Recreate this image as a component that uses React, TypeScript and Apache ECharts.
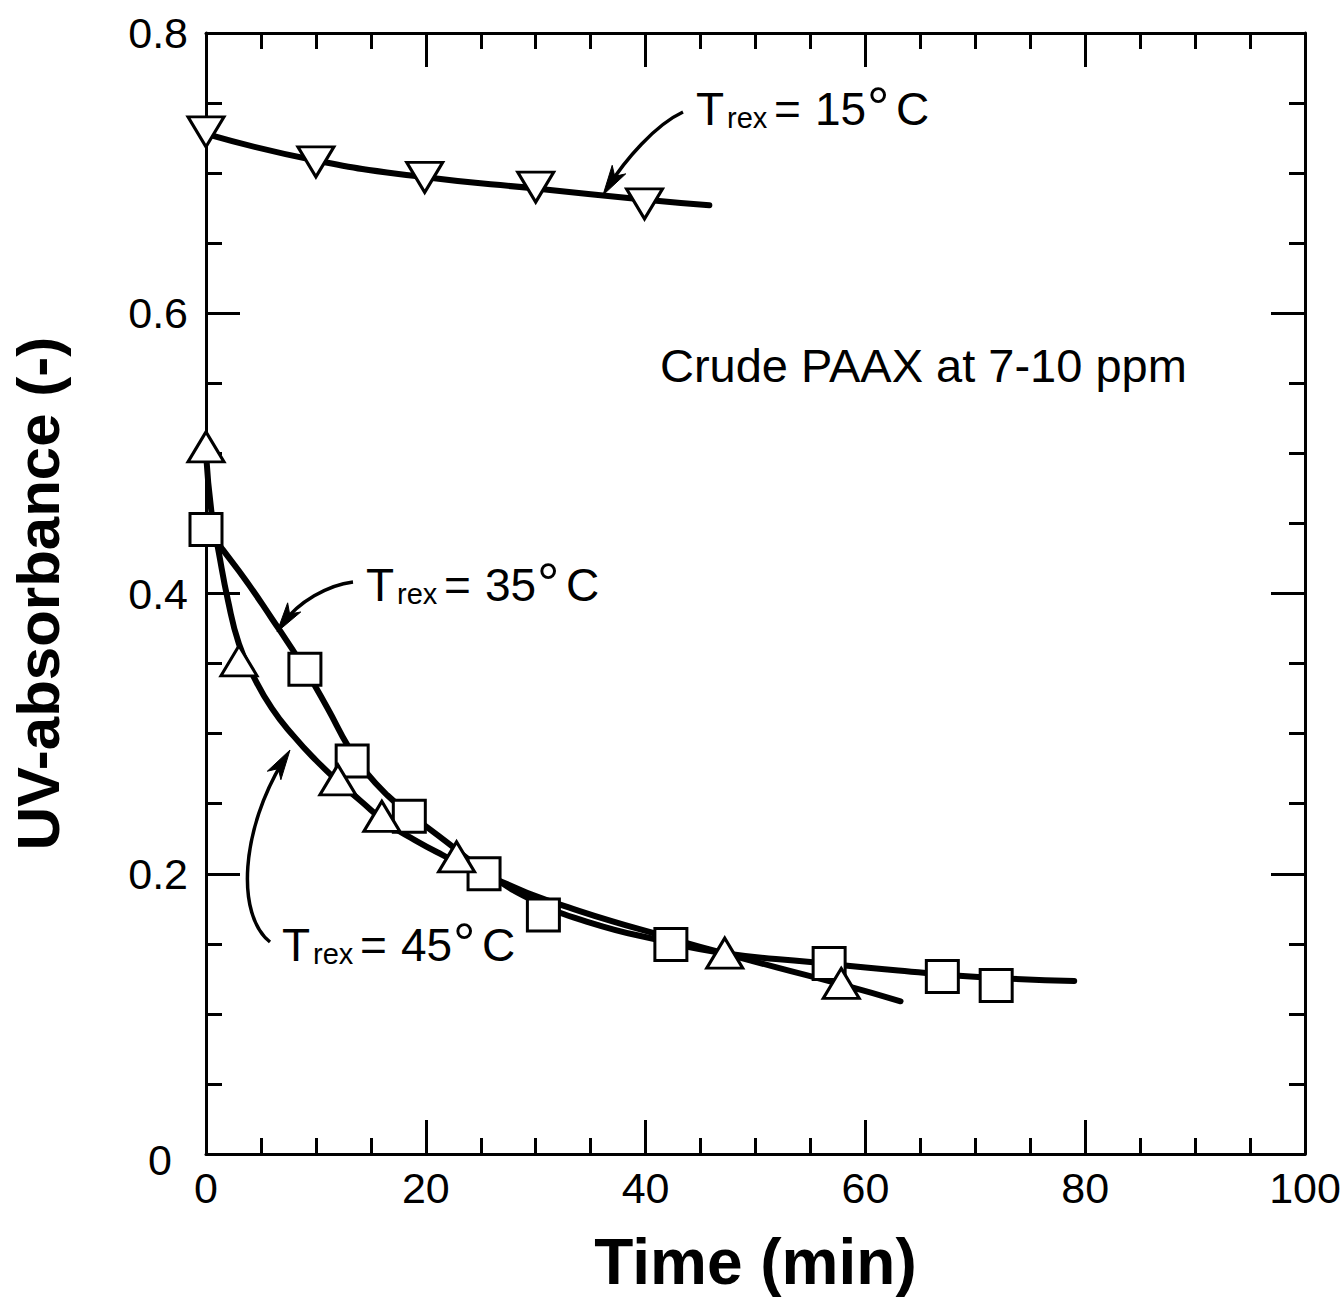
import React, { useEffect, useRef } from 'react';
import * as echarts from 'echarts';

// ---- Data ----
const xTicks = [0, 20, 40, 60, 80, 100];
const yTicks = [0, 0.2, 0.4, 0.6, 0.8];

// Measured points (markers)
const obs15: number[][] = [[0, 0.7295], [10, 0.708], [19.9, 0.697], [30, 0.69], [39.9, 0.678]];
const obs35: number[][] = [[0, 0.4456], [9, 0.346], [13.3, 0.2804], [18.5, 0.241], [25.3, 0.2], [30.7, 0.1705], [42.3, 0.1495], [56.7, 0.136], [67, 0.1267], [71.9, 0.1203]];
const obs45: number[][] = [[0, 0.5046], [3, 0.352], [12, 0.267], [16, 0.241], [22.8, 0.212], [47.2, 0.1434], [57.8, 0.1217]];

// Fitted curves
const fit15: number[][] = [[0, 0.728], [10, 0.709], [20, 0.697], [30, 0.689], [40, 0.681], [45.8, 0.677]];
const fit35: number[][] = [[0, 0.446], [3, 0.416], [6, 0.382], [9, 0.346], [11, 0.319], [13, 0.29], [14.5, 0.273], [16.5, 0.256], [18.5, 0.243], [22, 0.222], [25.5, 0.201], [30, 0.18], [35, 0.165], [41, 0.153], [47, 0.1435], [55, 0.137], [63, 0.131], [71, 0.126], [79, 0.1235]];
const fit45: number[][] = [[0, 0.5], [0.5, 0.458], [1.1, 0.432], [2, 0.395], [3, 0.364], [4.25, 0.342], [6, 0.318], [8, 0.298], [10, 0.281], [12, 0.266], [14, 0.2525], [16.5, 0.236], [19, 0.224], [21.5, 0.2135], [24.5, 0.202], [27, 0.194], [30, 0.184], [33, 0.176], [37, 0.166], [41, 0.157], [44, 0.15], [47, 0.1435], [52, 0.133], [57.8, 0.121], [63.2, 0.109]];

const FONT = '"Liberation Sans", Arial, Helvetica, sans-serif';

function trexLabel(x0: number, yc: number, num: string) {
  const base = { fill: '#000', fontFamily: FONT, verticalAlign: 'middle', align: 'left' };
  return {
    type: 'group',
    children: [
      { type: 'text', x: x0, y: yc, style: { ...base, text: 'T', fontSize: 46 } },
      { type: 'text', x: x0 + 31, y: yc + 9, style: { ...base, text: 'rex', fontSize: 29 } },
      { type: 'text', x: x0 + 78, y: yc, style: { ...base, text: '=', fontSize: 46 } },
      { type: 'text', x: x0 + 119, y: yc, style: { ...base, text: num, fontSize: 46 } },
      { type: 'text', x: x0 + 171, y: yc - 2, style: { ...base, text: '°', fontSize: 56 } },
      { type: 'text', x: x0 + 200, y: yc, style: { ...base, text: 'C', fontSize: 46 } },
    ],
  };
}

function arrow(p0: number[], c1: number[], c2: number[], tip: number[]) {
  const dx = tip[0] - c2[0];
  const dy = tip[1] - c2[1];
  const len = Math.sqrt(dx * dx + dy * dy) || 1;
  const ux = dx / len, uy = dy / len;
  const px = -uy, py = ux;
  const L = 30, W = 8, N = 22;
  const pts = [
    tip,
    [tip[0] - ux * L + px * W, tip[1] - uy * L + py * W],
    [tip[0] - ux * N, tip[1] - uy * N],
    [tip[0] - ux * L - px * W, tip[1] - uy * L - py * W],
  ];
  return [
    {
      type: 'bezierCurve',
      shape: { x1: p0[0], y1: p0[1], cpx1: c1[0], cpy1: c1[1], cpx2: c2[0], cpy2: c2[1], x2: tip[0] - ux * 10, y2: tip[1] - uy * 10 },
      style: { stroke: '#000', lineWidth: 3.5, fill: null },
    },
    { type: 'polygon', shape: { points: pts }, style: { fill: '#000', stroke: '#000', lineWidth: 1 } },
  ];
}

export default function App() {
  const ref = useRef<HTMLDivElement>(null);

  useEffect(() => {
    if (!ref.current) return;
    const chart = echarts.init(ref.current, undefined, { renderer: 'svg' });

    const axisLine = { show: true, onZero: false, lineStyle: { color: '#000', width: 3 } };
    const axisTick = { show: true, inside: true, length: 34, lineStyle: { color: '#000', width: 3 } };
    const minorTick = { show: true, splitNumber: 4, length: 16, lineStyle: { color: '#000', width: 3 } };

    const xBase = {
      type: 'value',
      min: xTicks[0],
      max: xTicks[xTicks.length - 1],
      interval: xTicks[1] - xTicks[0],
      axisLine, axisTick, minorTick,
      splitLine: { show: false },
    };
    const yBase = {
      type: 'value',
      min: yTicks[0],
      max: yTicks[yTicks.length - 1],
      interval: yTicks[1] - yTicks[0],
      axisLine, axisTick, minorTick,
      splitLine: { show: false },
    };

    const lineSeries = (data: number[][]) => ({
      type: 'line',
      data,
      xAxisIndex: 0,
      yAxisIndex: 0,
      showSymbol: false,
      symbol: 'none',
      smooth: 0.5,
      clip: false,
      lineStyle: { color: '#000', width: 6, cap: 'round', join: 'round' },
      z: 2,
    });
    const markerStyle = { color: '#fff', borderColor: '#000', borderWidth: 3, opacity: 1 };

    chart.setOption({
      animation: false,
      backgroundColor: '#fff',
      grid: { left: 200, right: 39, top: 33, bottom: 142, containLabel: false },
      xAxis: [
        {
          ...xBase,
          position: 'bottom',
          axisLabel: { color: '#000', fontSize: 43, fontFamily: FONT, margin: 12 },
          name: 'Time (min)',
          nameLocation: 'middle',
          nameGap: 76,
          nameTextStyle: { color: '#000', fontSize: 64, fontWeight: 'bold', fontFamily: FONT },
        },
        { ...xBase, position: 'top', axisLabel: { show: false } },
      ],
      yAxis: [
        {
          ...yBase,
          position: 'left',
          axisLabel: {
            color: '#000', fontSize: 43, fontFamily: FONT, margin: 18,
            formatter: (v: number) => (v === 0 ? '{z|0}' : v.toFixed(1)),
            rich: { z: { fontSize: 43, fontFamily: FONT, color: '#000', padding: [12, 16, 0, 0] } },
          },
          name: 'UV-absorbance (-)',
          nameLocation: 'middle',
          nameGap: 138,
          nameTextStyle: { color: '#000', fontSize: 60, fontWeight: 'bold', fontFamily: FONT },
        },
        { ...yBase, position: 'right', axisLabel: { show: false } },
      ],
      series: [
        lineSeries(fit15),
        lineSeries(fit35),
        lineSeries(fit45),
        { type: 'scatter', data: obs15, symbol: 'triangle', symbolRotate: 180, symbolSize: [36, 30], itemStyle: markerStyle, clip: false, z: 3 },
        { type: 'scatter', data: obs35, symbol: 'rect', symbolSize: 32, itemStyle: markerStyle, clip: false, z: 3 },
        { type: 'scatter', data: obs45, symbol: 'triangle', symbolSize: [36, 30], itemStyle: markerStyle, clip: false, z: 3 },
      ],
      graphic: [
        trexLabel(696, 108.5, '15'),
        trexLabel(366, 584.5, '35'),
        trexLabel(282, 944.5, '45'),
        ...arrow([683, 112], [655, 125], [625, 160], [603, 195]),
        ...arrow([353, 582], [328, 585], [298, 602], [277, 632]),
        ...arrow([270, 942], [236, 915], [240, 830], [290, 750]),
        {
          type: 'text', x: 660, y: 365,
          style: { text: 'Crude PAAX at 7-10 ppm', fill: '#000', fontSize: 47, fontFamily: FONT, verticalAlign: 'middle', align: 'left' },
        },
      ],
    });

    return () => chart.dispose();
  }, []);

  return <div ref={ref} style={{ position: 'fixed', left: 0, top: 0, width: 1344, height: 1299, background: '#fff' }} />;
}
